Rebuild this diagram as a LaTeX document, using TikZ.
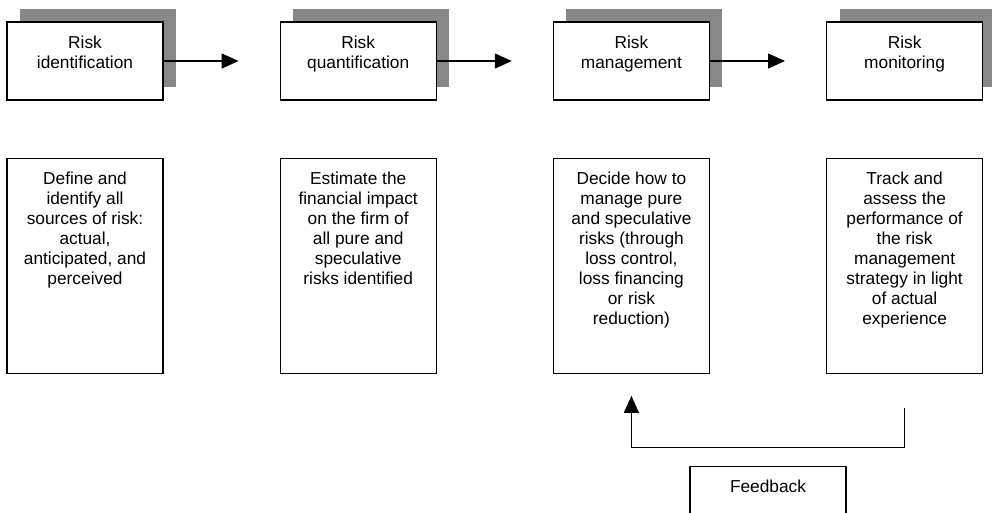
\documentclass[tikz,border=0pt]{standalone}
\usepackage{fontspec}
\setmainfont{Liberation Sans}
\usetikzlibrary{calc, positioning, shadows, arrows.meta}
\definecolor{shadowgray}{RGB}{136,136,136}

\begin{document}
\begin{tikzpicture}[x=1pt, y=-1pt, line width=1.2pt,
    plainbox/.style={draw, fill=white, minimum width=156pt, minimum height=78pt, inner sep=0pt},
    stagebox/.style={plainbox, drop shadow={shadow xshift=13pt, shadow yshift=13pt, fill=shadowgray, opacity=1}},
    descbox/.style={plainbox, minimum height=215pt},
    txt/.style={anchor=north, inner sep=0pt, align=center, font=\fontsize{17.3}{20}\selectfont},
    arr/.style={-{Triangle[length=17pt, width=15pt]}}]
    \clip (0, 0) rectangle (992, 512);
    % 四个阶段
    \node [stagebox] (ident) at (85, 61) {};
    \node [stagebox, right=116pt of ident] (quant) {};
    \node [stagebox, right=116pt of quant] (manage) {};
    \node [stagebox, right=116pt of manage] (monit) {};
    \node [txt, below=13.5pt of ident.north] (identtxt) {Risk\\identification};
    \node [txt, below=13.5pt of quant.north] (quanttxt) {Risk\\quantification};
    \node [txt, below=13.5pt of manage.north] (managetxt) {Risk\\management};
    \node [txt, below=13.5pt of monit.north] (monittxt) {Risk\\monitoring};
    % 阶段之间的箭头
    \draw [arr, shorten >=41pt] (ident) -- (quant);
    \draw [arr, shorten >=41pt] (quant) -- (manage);
    \draw [arr, shorten >=41pt] (manage) -- (monit);

    % 说明框
    \node [descbox, below=57pt of ident] (identdesc) {};
    \node [descbox, below=57pt of quant] (quantdesc) {};
    \node [descbox, below=57pt of manage] (managedesc) {};
    \node [descbox, below=57pt of monit] (monitdesc) {};
    \node [txt, below=13.5pt of identdesc.north] {Define and\\identify all\\sources of risk:\\actual,\\anticipated, and\\perceived};
    \node [txt, below=13.5pt of quantdesc.north] {Estimate the\\financial impact\\on the firm of\\all pure and\\speculative\\risks identified};
    \node [txt, below=13.5pt of managedesc.north] {Decide how to\\manage pure\\and speculative\\risks (through\\loss control,\\loss financing\\or risk\\reduction)};
    \node [txt, below=13.5pt of monitdesc.north] {Track and\\assess the\\performance of\\the risk\\management\\strategy in light\\of actual\\experience};

    % 反馈
    \draw [arr, shorten <=34pt, shorten >=22pt] (monitdesc.south) -- ++(0, 74) -| (managedesc.south);
    \node [plainbox] (feedback) at ($(managedesc.south)!0.5!(monitdesc.south) + (0, 132)$) {};
    \node [txt, below=13.5pt of feedback.north] {Feedback};
\end{tikzpicture}
\end{document}
